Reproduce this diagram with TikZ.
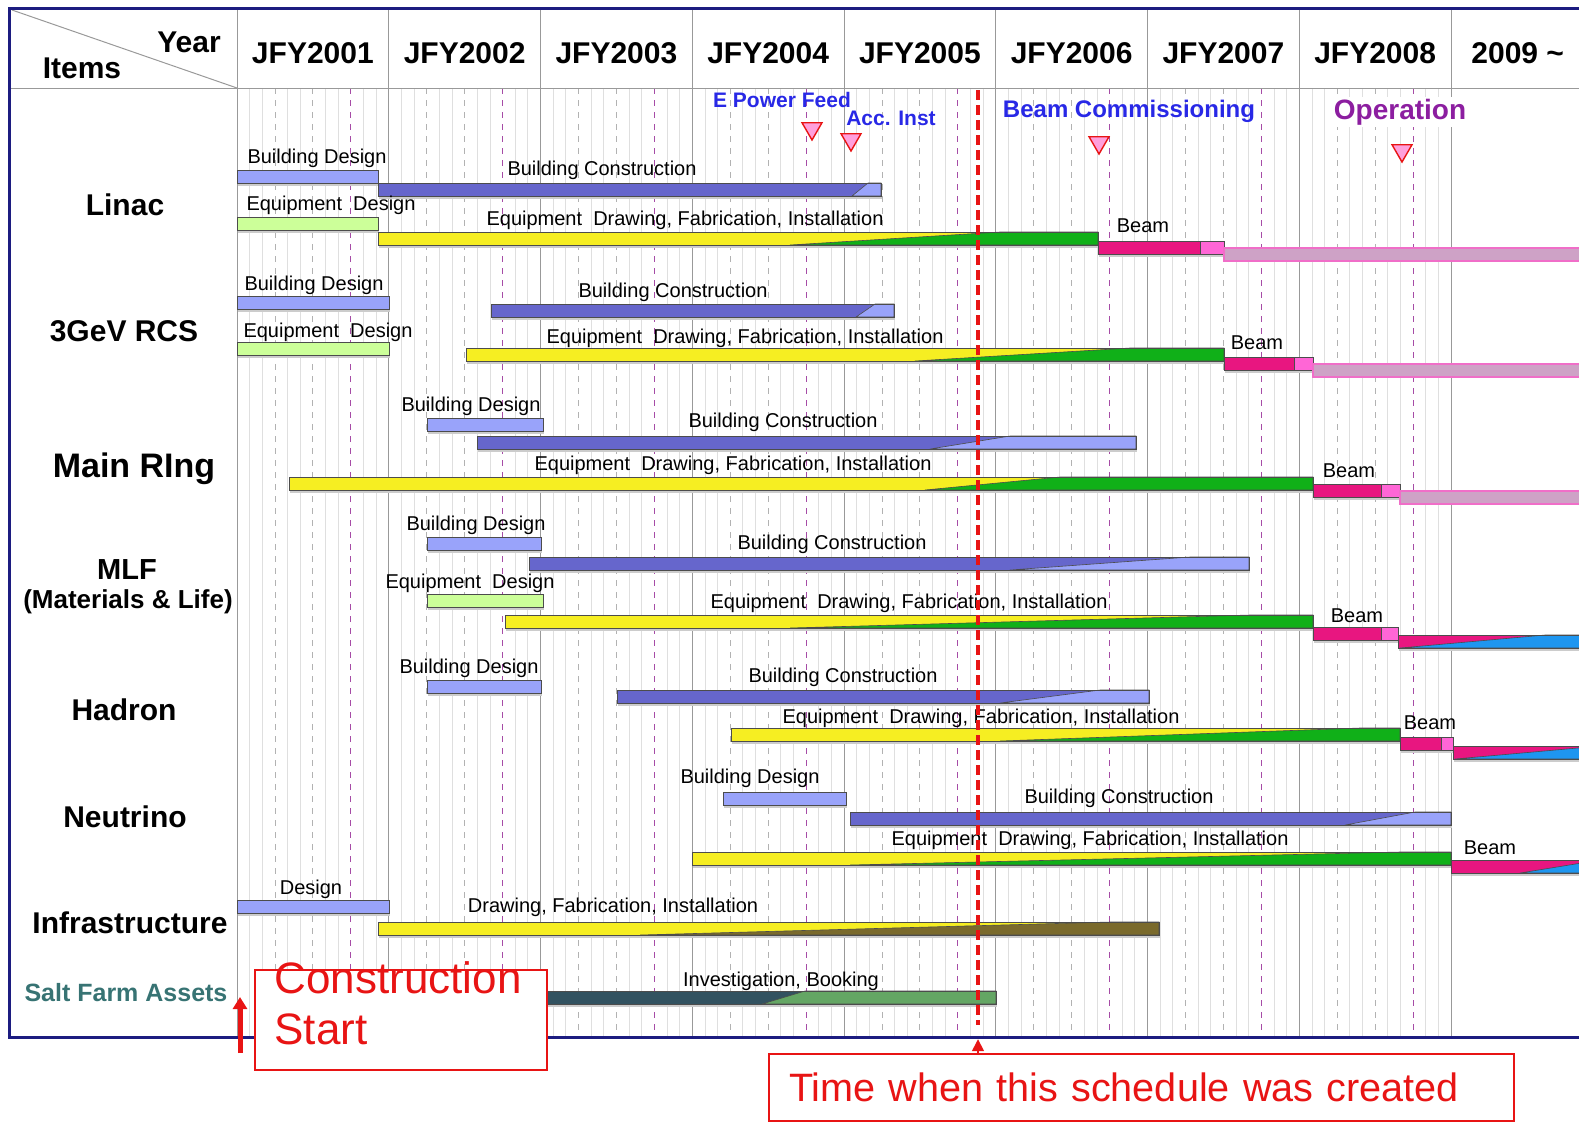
\documentclass[tikz,border=0pt]{standalone}
\usepackage{fontspec}
\setmainfont{Liberation Sans}
\usetikzlibrary{shapes,shapes.geometric,arrows.meta,positioning}

\definecolor{navy}{RGB}{28,28,128}
\definecolor{designblue}{RGB}{153,163,250}
\definecolor{buildblue}{RGB}{102,102,204}
\definecolor{designgreen}{RGB}{204,255,153}
\definecolor{fabyellow}{RGB}{246,238,34}
\definecolor{fabgreen}{RGB}{16,176,24}
\definecolor{beammag}{RGB}{232,22,128}
\definecolor{beampink}{RGB}{255,102,214}
\definecolor{opmauve}{RGB}{206,162,198}
\definecolor{oppink}{RGB}{240,110,200}
\definecolor{opblue}{RGB}{30,150,240}
\definecolor{infraolive}{RGB}{122,106,44}
\definecolor{saltslate}{RGB}{50,82,96}
\definecolor{saltgreen}{RGB}{100,166,100}
\definecolor{saltteal}{RGB}{55,115,115}
\definecolor{msblue}{RGB}{40,40,230}
\definecolor{oppurple}{RGB}{140,30,160}
\definecolor{mspink}{RGB}{255,160,220}
\definecolor{nowred}{RGB}{232,20,20}

\def\mw{12.6458}

\tikzset{outerframe/.style={draw=navy, line width=1.5pt},
yearline/.style={draw=gray!80, line width=0.5pt},
monthline/.style={draw=gray!25, line width=0.4pt},
quarterline/.style={draw=gray!60, dashed, line width=0.4pt},
janline/.style={draw=violet!70, dashed, line width=0.4pt},
barshadow/.style={fill=gray!40},
barline/.style={draw=black!70, line width=0.4pt},
opbar/.style={fill=opmauve, draw=oppink, line width=0.6pt},
bartext/.style={inner sep=0pt, font=\fontsize{10}{12}\selectfont},
rowtext/.style={inner sep=0pt, font=\bfseries\fontsize{15}{18}\selectfont},
yeartext/.style={inner sep=0pt, font=\bfseries\fontsize{15}{18}\selectfont},
mstext/.style={inner sep=0pt, text=msblue, font=\bfseries\fontsize{10.5}{12}\selectfont},
milestone/.style={regular polygon, regular polygon sides=3, shape border rotate=180,
  draw=nowred, fill=mspink, line width=0.7pt, minimum size=11.5pt, inner sep=0pt},
nowline/.style={draw=nowred, line width=2pt, dash pattern=on 5pt off 2.5pt},
notebox/.style={draw=nowred, line width=0.8pt, fill=white, text=nowred, align=left,
  text width=352.5pt, inner xsep=10pt, minimum height=33.5pt, font=\fontsize{19.8}{22}\selectfont},
csbox/.style={draw=nowred, line width=0.8pt, fill=white, minimum width=146pt, minimum height=50pt},
cstext/.style={text=nowred, align=left, inner sep=0pt, font=\fontsize{22}{25.5}\selectfont},
csarrow/.style={draw=nowred, line width=2.5pt, -{Triangle[length=6pt,width=7pt]}}}

\newcommand{\taskbar}[4]{%
  \fill[barshadow] (#1+1,#3+2) rectangle (#2+1,#3+16);
  \filldraw[fill=#4, barline] (#1,#3) rectangle (#2,#3+13);}
\newcommand{\splitbar}[7]{%
  \fill[barshadow] (#1+1,#3+2) rectangle (#2+1,#3+16);
  \fill[#4] (#1,#3) rectangle (#2,#3+13);
  \filldraw[fill=#5, barline, line width=0.3pt] (#6,#3+13) -- (#7,#3) -- (#2,#3) -- (#2,#3+13) -- cycle;
  \draw[barline] (#1,#3) rectangle (#2,#3+13);}
\newcommand{\opline}[2]{%
  \filldraw[opbar] (#1,#2) rectangle (1600,#2+13);}

\begin{document}
\begin{tikzpicture}[x=0.5pt,y=-0.5pt]
  \useasboundingbox (0,0) rectangle (1579,1132);
  \clip (0,0) rectangle (1579,1132);

  \foreach \yr in {0,...,7} {
    \foreach \m in {1,2,4,5,7,8,10,11}
      \draw[monthline] ({237+(12*\yr+\m)*\mw},88) -- ++(0,949);
    \foreach \m in {3,6}
      \draw[quarterline] ({237+(12*\yr+\m)*\mw},88) -- ++(0,949);
    \draw[janline] ({237+(12*\yr+9)*\mw},88) -- ++(0,949);
  }
  \foreach \yr in {0,...,8}
    \draw[yearline] ({237+12*\yr*\mw},8) -- ++(0,1029);
  \draw[yearline] (9,88) -- (1590,88);
  \draw[yearline] (12,10) -- (237,88);
  \draw[outerframe] (1590,8) -- (9,8) -- (9,1037) -- (1590,1037);

  \node[rowtext] (items) at (82,68) {Items};
  \node[rowtext] (year) at (189,42) {Year};
  \foreach \yr [count=\i from 0] in {2001,...,2008}
    \node[yeartext] (jfy\yr) at ({237+(12*\i+6)*\mw},53) {JFY\yr};
  \node[yeartext, anchor=west] (jfy2009) at (1471,53) {2009 \textasciitilde};

  \node[rowtext] (linac) at (125,205) {Linac};
  \node[rowtext] (rcs) at (124,331) {3GeV RCS};
  \node[rowtext, font=\bfseries\fontsize{17}{20}\selectfont] (mainring) at (134,469) {Main RIng};
  \node[rowtext, font=\bfseries\fontsize{14.5}{17}\selectfont] (mlf) at (127,570) {MLF};
  \node[rowtext, font=\bfseries\fontsize{13}{16}\selectfont] (mlfsub) at (128,602) {(Materials \& Life)};
  \node[rowtext] (hadron) at (124,710) {Hadron};
  \node[rowtext] (neutrino) at (125,817) {Neutrino};
  \node[rowtext] (infra) at (130,923) {Infrastructure};
  \node[rowtext, text=saltteal, font=\bfseries\fontsize{12.5}{15}\selectfont] (salt) at (126,993) {Salt Farm Assets};

  % Linac
  \taskbar{237}{378}{170}{designblue}
  \splitbar{378}{881}{183}{buildblue}{designblue}{852}{868}
  \taskbar{237}{378}{217}{designgreen}
  \splitbar{378}{1098}{232}{fabyellow}{fabgreen}{790}{1000}
  \taskbar{1098}{1200}{241}{beammag}
  \taskbar{1200}{1224}{241}{beampink}
  \opline{1224}{248}
  \node[bartext] (linacbd) at (317,158) {Building Design};
  \node[bartext] (linacbc) at (602,170) {Building Construction};
  \node[bartext] (linaced) at (331,205) {Equipment~ Design};
  \node[bartext] (linacef) at (685,220) {Equipment~ Drawing, Fabrication, Installation};
  \node[bartext] (linacbeam) at (1143,226) {Beam};

  % 3GeV RCS
  \taskbar{237}{389}{296}{designblue}
  \splitbar{491}{894}{304}{buildblue}{designblue}{856}{875}
  \taskbar{237}{389}{342}{designgreen}
  \splitbar{466}{1224}{348}{fabyellow}{fabgreen}{915}{1130}
  \taskbar{1224}{1294}{357}{beammag}
  \taskbar{1294}{1313}{357}{beampink}
  \opline{1313}{364}
  \node[bartext] (rcsbd) at (314,285) {Building Design};
  \node[bartext] (rcsbc) at (673,292) {Building Construction};
  \node[bartext] (rcsed) at (328,332) {Equipment~ Design};
  \node[bartext] (rcsef) at (745,338) {Equipment~ Drawing, Fabrication, Installation};
  \node[bartext] (rcsbeam) at (1257,343) {Beam};

  % Main Ring
  \taskbar{427}{543}{418}{designblue}
  \splitbar{477}{1136}{436}{buildblue}{designblue}{930}{1010}
  \splitbar{289}{1313}{477}{fabyellow}{fabgreen}{925}{1060}
  \taskbar{1313}{1381}{484}{beammag}
  \taskbar{1381}{1400}{484}{beampink}
  \opline{1400}{491}
  \node[bartext] (mrbd) at (471,406) {Building Design};
  \node[bartext] (mrbc) at (783,422) {Building Construction};
  \node[bartext] (mref) at (733,465) {Equipment~ Drawing, Fabrication, Installation};
  \node[bartext] (mrbeam) at (1349,471) {Beam};

  % MLF
  \taskbar{427}{541}{537}{designblue}
  \splitbar{529}{1249}{557}{buildblue}{designblue}{1010}{1190}
  \taskbar{427}{543}{594}{designgreen}
  \splitbar{505}{1313}{615}{fabyellow}{fabgreen}{790}{1250}
  \taskbar{1313}{1381}{627}{beammag}
  \taskbar{1381}{1398}{627}{beampink}
  \splitbar{1398}{1600}{635}{beammag}{opblue}{1400}{1545}
  \node[bartext] (mlfbd) at (476,525) {Building Design};
  \node[bartext] (mlfbc) at (832,544) {Building Construction};
  \node[bartext] (mlfed) at (470,583) {Equipment~ Design};
  \node[bartext] (mlfef) at (909,603) {Equipment~ Drawing, Fabrication, Installation};
  \node[bartext] (mlfbeam) at (1357,616) {Beam};

  % Hadron
  \taskbar{427}{541}{680}{designblue}
  \splitbar{617}{1149}{690}{buildblue}{designblue}{1000}{1100}
  \splitbar{731}{1400}{728}{fabyellow}{fabgreen}{1000}{1360}
  \taskbar{1400}{1441}{737}{beammag}
  \taskbar{1441}{1453}{737}{beampink}
  \splitbar{1453}{1600}{746}{beammag}{opblue}{1455}{1600}
  \node[bartext] (hadbd) at (469,668) {Building Design};
  \node[bartext] (hadbc) at (843,677) {Building Construction};
  \node[bartext] (hadef) at (981,718) {Equipment~ Drawing, Fabrication, Installation};
  \node[bartext] (hadbeam) at (1430,723) {Beam};

  % Neutrino
  \taskbar{723}{846}{792}{designblue}
  \splitbar{850}{1451}{812}{buildblue}{designblue}{1345}{1415}
  \splitbar{692}{1451}{852}{fabyellow}{fabgreen}{850}{1400}
  \splitbar{1451}{1600}{860}{beammag}{opblue}{1520}{1600}
  \node[bartext] (neubd) at (750,778) {Building Design};
  \node[bartext] (neubc) at (1119,798) {Building Construction};
  \node[bartext] (neuef) at (1090,840) {Equipment~ Drawing, Fabrication, Installation};
  \node[bartext] (neubeam) at (1490,848) {Beam};

  % Infrastructure, Salt Farm
  \taskbar{237}{389}{900}{designblue}
  \splitbar{378}{1159}{922}{fabyellow}{infraolive}{640}{1110}
  \splitbar{547}{996}{991}{saltslate}{saltgreen}{762}{805}
  \node[bartext] (infrad) at (311,889) {Design};
  \node[bartext] (infradf) at (613,907) {Drawing, Fabrication, Installation};
  \node[bartext] (saltib) at (781,981) {Investigation, Booking};

  % milestones
  \node[milestone] (mspower) at (812,128.5) {};
  \node[milestone] (msacc) at (851,139.5) {};
  \node[milestone] (msbeam) at (1099,142.5) {};
  \node[milestone] (msop) at (1402,150.5) {};
  \node[mstext] (mspowertext) at (782,100) {E Power Feed};
  \node[mstext] (msacctext) at (891,118) {Acc. Inst};
  \node[mstext, font=\bfseries\fontsize{12}{14}\selectfont] (msbeamtext) at (1129,111) {Beam Commissioning};
  \node[mstext, text=oppurple, fill=white, inner sep=1pt, font=\bfseries\fontsize{14}{16}\selectfont] (msoptext) at (1400,112) {Operation};

  % now
  \coordinate (nowtop) at (978,90);
  \coordinate (nowbot) at (978,1025);
  \draw[nowline] (nowtop) -- (nowbot);
  \node[notebox] (nowbox) at (1141.5,1087.5) {Time when this schedule was created};
  \draw[nowred, line width=0.8pt, -{Triangle[length=6pt,width=6pt]}] (nowbox.north -| nowbot) -- ++(0,-14);

  \node[csbox] (csbox) at (401,1020) {};
  \node[cstext, anchor=north west] (cstext) at ([xshift=10pt,yshift=4pt]csbox.north west) {Construction\\Start};
  \coordinate (cstail) at (240,1053);
  \coordinate (cshead) at (240,997);
  \draw[csarrow] (cstail) -- (cshead);
\end{tikzpicture}
\end{document}
